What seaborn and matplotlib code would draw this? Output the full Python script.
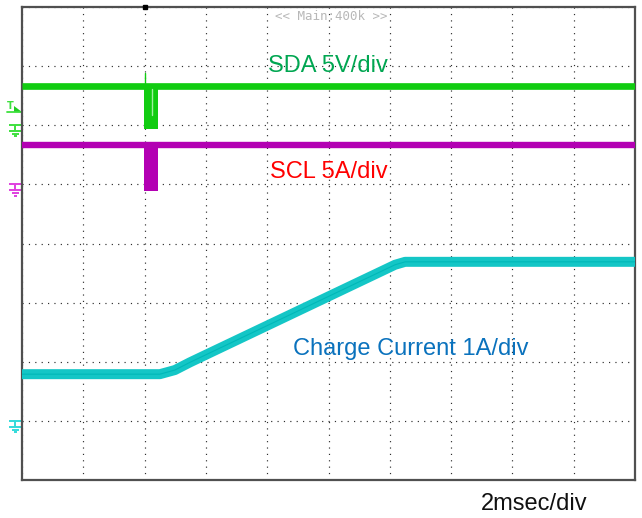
import numpy as np
import pandas as pd
import matplotlib
matplotlib.use("Agg")
import matplotlib.pyplot as plt
import matplotlib.transforms as mtransforms
import seaborn as sns

# ---------------- data (read from the scope capture) ----------------
# time axis: 2 ms/div, 10 divisions
time_per_div = 2.0
n_xdiv = 10
n_ydiv = 8

# SDA (5 V/div, ground reference at +2 div)
sda_t = [0.0, 3.98, 3.98, 4.44, 4.44, 20.0]
sda_v = [3.3, 3.3, 3.3, 3.3, 3.3, 3.3]
sda_burst_t = [3.98, 4.44]
sda_burst_low = -0.35
sda_spike_t = [4.02, 4.02]
sda_spike_v = [3.3, 4.4]
sda_gap_t = [4.24, 4.24]
sda_gap_v = [3.1, 0.9]
sda_scale, sda_ground = 5.0, 2.0
trig_level_v = 1.3

# SCL (5 A/div label, ground reference at +1 div)
scl_t = [0.0, 20.0]
scl_v = [3.3, 3.3]
scl_burst_t = [3.98, 4.44]
scl_burst_low = -0.55
scl_scale, scl_ground = 5.0, 1.0

# Charge current (1 A/div, ground reference at -3 div)
cur_t = [0.0, 4.5, 4.99, 5.48, 12.17, 12.5, 20.0]
cur_a = [0.79, 0.79, 0.86, 0.99, 2.64, 2.69, 2.69]
cur_scale, cur_ground = 1.0, -3.0

labels = {
    "sda": "SDA 5V/div",
    "scl": "SCL 5A/div",
    "cur": "Charge Current 1A/div",
    "time": "2msec/div",
    "top": "<< Main:400k >>",
}

# ---------------- style ----------------
sns.set_style("white")
plt.rcParams["font.family"] = ["Liberation Sans", "DejaVu Sans"]

W, H = 642, 518
fig = plt.figure(figsize=(W / 100, H / 100), dpi=100)
L, R, T, B = 22, 635, 7, 480
ax = fig.add_axes([L / W, 1 - B / H, (R - L) / W, (B - T) / H])
ax.set_xlim(0, n_xdiv * time_per_div)
ax.set_ylim(-n_ydiv / 2, n_ydiv / 2)

ax.set_xticks(np.arange(0, n_xdiv * time_per_div + 0.1, time_per_div))
ax.set_yticks(np.arange(-n_ydiv / 2, n_ydiv / 2 + 0.1, 1))
ax.tick_params(length=0, labelbottom=False, labelleft=False)
ax.grid(True, color="#2e2e2e", linestyle=(0, (1, 4.4)), linewidth=0.85)
ax.set_axisbelow(True)
for s in ax.spines.values():
    s.set_color("#505050")
    s.set_linewidth(1.6)

c_sda = "#11cc11"
c_scl = "#b300b3"
c_cur = "#14c6c6"


def to_div(vals, scale, ground):
    return [ground + v / scale for v in vals]


df_sda = pd.DataFrame({"t": sda_t, "d": to_div(sda_v, sda_scale, sda_ground)})
df_scl = pd.DataFrame({"t": scl_t, "d": to_div(scl_v, scl_scale, scl_ground)})
df_cur = pd.DataFrame({"t": cur_t, "d": to_div(cur_a, cur_scale, cur_ground)})

# charge current trace (thick band)
sns.lineplot(data=df_cur, x="t", y="d", ax=ax, color=c_cur, linewidth=7.2,
             estimator=None, sort=False, solid_capstyle="butt", zorder=3)
sns.lineplot(data=df_cur, x="t", y="d", ax=ax, color="#00b8b8", linewidth=0.8,
             estimator=None, sort=False, zorder=3.1)

# SCL
sns.lineplot(data=df_scl, x="t", y="d", ax=ax, color=c_scl, linewidth=4.6,
             estimator=None, sort=False, solid_capstyle="butt", zorder=3)
ax.fill_between(scl_burst_t,
                [scl_ground + scl_burst_low / scl_scale] * 2,
                [scl_ground + scl_v[0] / scl_scale + 0.06] * 2,
                color=c_scl, linewidth=0, zorder=3)

# SDA
sns.lineplot(data=df_sda, x="t", y="d", ax=ax, color=c_sda, linewidth=4.8,
             estimator=None, sort=False, solid_capstyle="butt", zorder=4)
ax.fill_between(sda_burst_t,
                [sda_ground + sda_burst_low / sda_scale] * 2,
                [sda_ground + sda_v[0] / sda_scale] * 2,
                color=c_sda, linewidth=0, zorder=4)
ax.plot(sda_spike_t, to_div(sda_spike_v, sda_scale, sda_ground),
        color=c_sda, linewidth=1.0, zorder=4)
ax.plot(sda_gap_t, to_div(sda_gap_v, sda_scale, sda_ground),
        color="#9ef09e", linewidth=1.0, zorder=4.1)

ax.set_xlabel("")
ax.set_ylabel("")
if ax.get_legend() is not None:
    ax.get_legend().remove()

# ---------------- reference markers on the left ----------------
blend = mtransforms.blended_transform_factory(ax.transAxes, ax.transData)
pxx = lambda px: (px - L) / (R - L)
pxy = (n_ydiv) / (B - T)  # divisions per pixel


def ground_marker(level, color):
    segs = [((9.5, 22.5), (0, 0)), ((15.5, 15.5), (0, 6)), ((9.5, 21), (6, 6)),
            ((12, 19), (8.7, 8.7)), ((14, 17), (11.2, 11.2))]
    for xs, ys in segs:
        ax.plot([pxx(xs[0]), pxx(xs[1])], [level - ys[0] * pxy, level - ys[1] * pxy],
                color=color, linewidth=1.4, transform=blend, clip_on=False,
                solid_capstyle="butt")


ground_marker(sda_ground, "#3ee03e")
ground_marker(scl_ground, "#e040e0")
ground_marker(cur_ground, "#33dada")

# trigger level marker
tl = sda_ground + trig_level_v / sda_scale
ax.plot([pxx(7), pxx(22)], [tl - 2 * pxy, tl - 2 * pxy], color="#3ee03e",
        linewidth=1.3, transform=blend, clip_on=False)
ax.fill([pxx(14), pxx(14), pxx(22)], [tl + 4 * pxy, tl - 2 * pxy, tl - 2 * pxy],
        color="#22cc22", transform=blend, clip_on=False, linewidth=0)
ax.text(pxx(10.5), tl - 1.5 * pxy, "T", color="#3ee03e", fontsize=7,
        fontweight="bold", ha="center", va="bottom", transform=blend,
        family="DejaVu Sans")

# trigger position marker at top
ax.plot([4.0], [n_ydiv / 2], marker="s", markersize=2.5, color="black",
        clip_on=False, zorder=6)

# ---------------- text ----------------
fs = 17
fig.text(328 / W, 1 - 72 / H, labels["sda"], color="#00a651", fontsize=fs,
         ha="center", va="baseline")
fig.text(328.5 / W, 1 - 178 / H, labels["scl"], color="#ff0000", fontsize=fs,
         ha="center", va="baseline")
fig.text(411 / W, 1 - 355 / H, labels["cur"], color="#0a72bd", fontsize=fs,
         ha="center", va="baseline")
fig.text(534.5 / W, 1 - 510 / H, labels["time"], color="#111111", fontsize=fs,
         ha="center", va="baseline")
fig.text(331 / W, 1 - 16 / H, labels["top"], color="#b8b8b8", fontsize=9,
         ha="center", va="center", family="DejaVu Sans Mono")

fig.savefig("out.png", dpi=100)
